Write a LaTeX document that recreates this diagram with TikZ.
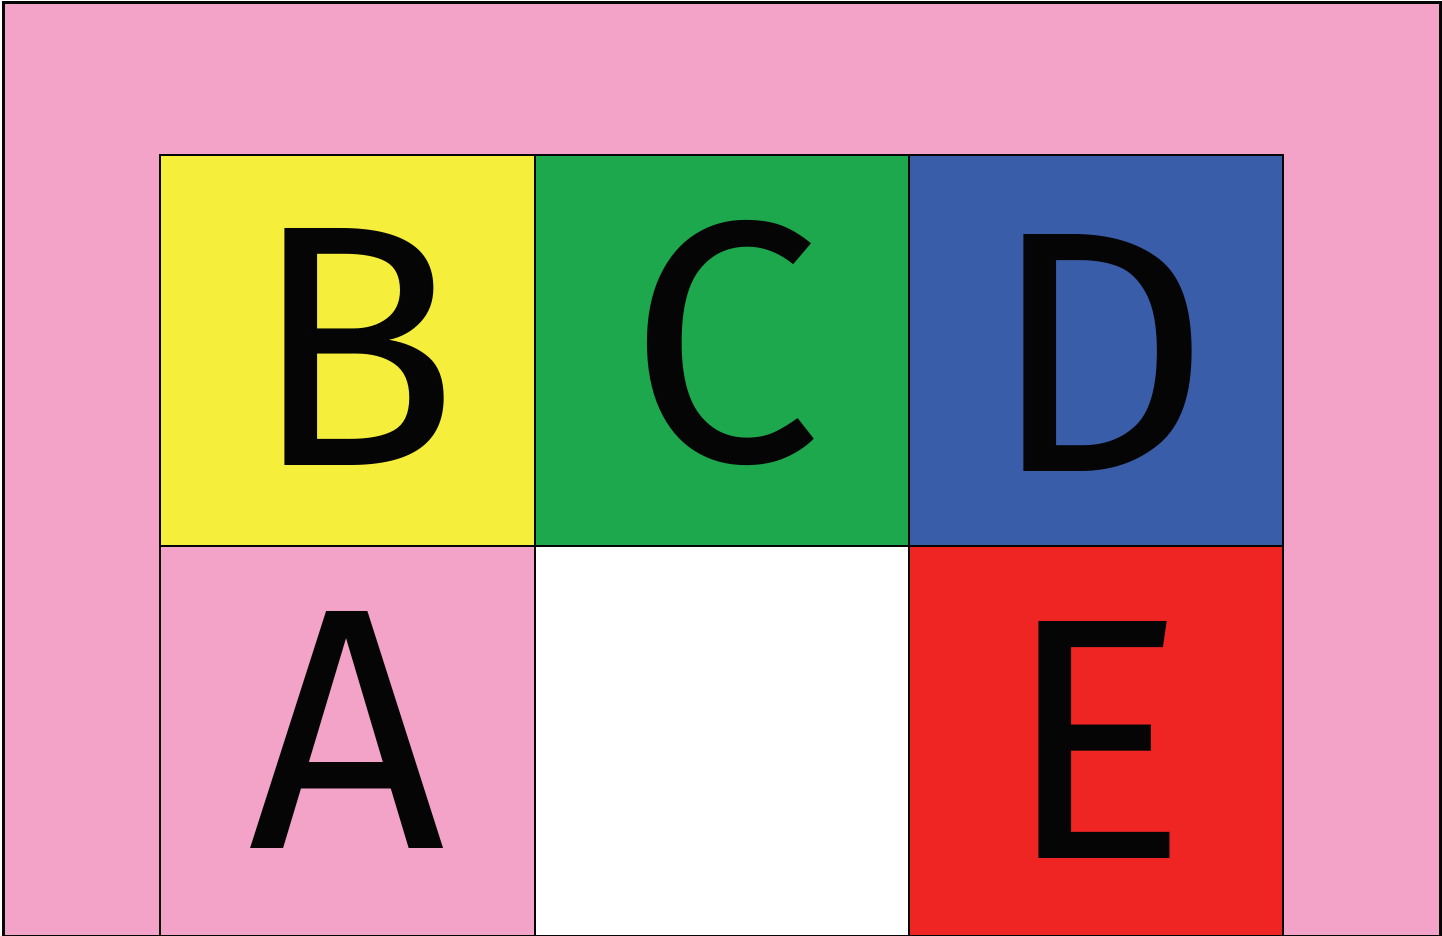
\documentclass[tikz,border=0pt]{standalone}
\usepackage{fontspec}
\setmainfont{Fira Sans}
\definecolor{pinkbg}{HTML}{F2A3C7}
\definecolor{ylw}{HTML}{F5EE3B}
\definecolor{grn}{HTML}{1DA84D}
\definecolor{blu}{HTML}{3A5DA9}
\definecolor{rd}{HTML}{EF2523}
\definecolor{ink}{HTML}{050505}
\begin{document}
\begin{tikzpicture}[x=0.5pt,y=-0.5pt,
  cell/.style={draw=ink,line width=1pt},
  letter/.style={anchor=base,inner sep=0pt,text=ink,font=\fontsize{172}{172}\selectfont}]
\useasboundingbox (0,0) rectangle (1442,936);
\draw[fill=pinkbg,draw=ink,line width=1.5pt] (3,3) rectangle (1440,936);
\draw[cell,fill=ylw] (160,155) rectangle (535,546);
\draw[cell,fill=grn] (535,155) rectangle (909,546);
\draw[cell,fill=blu] (909,155) rectangle (1283,546);
\draw[cell,fill=pinkbg] (160,546) rectangle (535,936);
\draw[cell,fill=white] (535,546) rectangle (909,936);
\draw[cell,fill=rd] (909,546) rectangle (1283,936);
\node[letter] (B) at (355,466) {B};
\node[letter] (C) at (725,462) {C};
\node[letter] (D) at (1100,472) {D};
\node[letter] (A) at (347,848) {A};
\node[letter] (E) at (1097,858) {E};
\end{tikzpicture}
\end{document}
